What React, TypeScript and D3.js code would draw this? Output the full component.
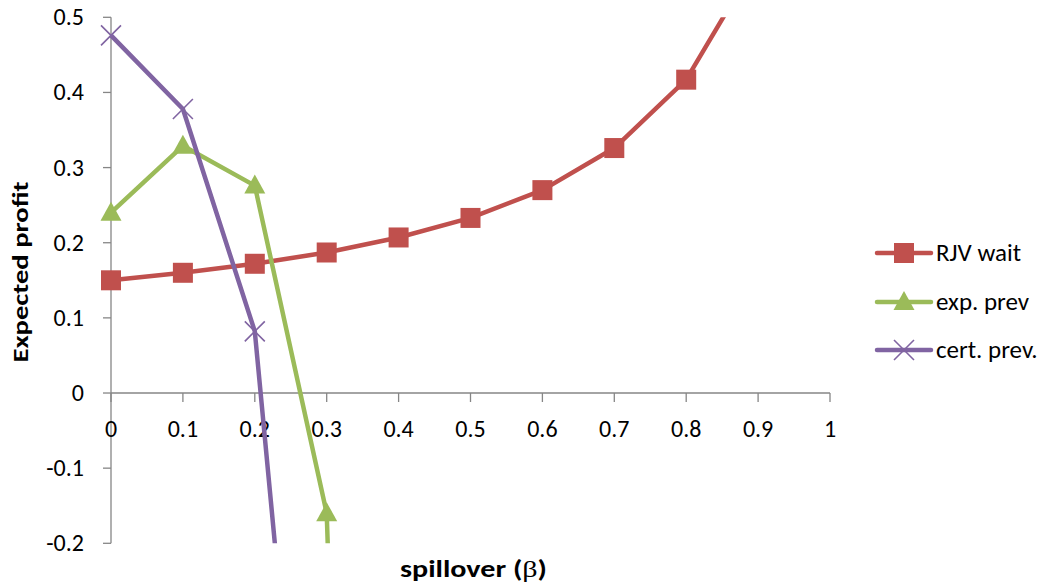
import React from "react";
import * as d3 from "d3";

const xValues = [0, 0.1, 0.2, 0.3, 0.4, 0.5, 0.6, 0.7, 0.8, 0.9];
const rjvWait = [0.15, 0.16, 0.172, 0.187, 0.207, 0.233, 0.27, 0.326, 0.417, 0.578];
const expPrevX = [0, 0.1, 0.2, 0.3, 0.4];
const expPrev = [0.24, 0.329, 0.276, -0.16, -3.0];
const certPrevX = [0, 0.1, 0.2, 0.3];
const certPrev = [0.476, 0.378, 0.082, -0.93];
const xTicks = [0, 0.1, 0.2, 0.3, 0.4, 0.5, 0.6, 0.7, 0.8, 0.9, 1];
const yTicks = [-0.2, -0.1, 0, 0.1, 0.2, 0.3, 0.4, 0.5];
const seriesNames = ["RJV wait", "exp. prev", "cert. prev."];
const colors = ["#C0504D", "#9BBB59", "#8064A2"];

const W = 1053, H = 585;
const FONT = "Carlito, Calibri, Lato, sans-serif";

export default function App() {
  const x = d3.scaleLinear().domain([0, 1]).range([111, 830]);
  const y = d3.scaleLinear().domain([-0.2, 0.5]).range([543.3, 17.3]);
  const line = d3.line<[number, number]>().x(d => x(d[0])).y(d => y(d[1]));
  const axisColor = "#868686";

  const series = [
    { xs: xValues, ys: rjvWait, marker: "square" },
    { xs: expPrevX, ys: expPrev, marker: "triangle" },
    { xs: certPrevX, ys: certPrev, marker: "x" },
  ];

  const drawMarker = (kind: string, cx: number, cy: number, color: string, key: string) => {
    if (kind === "square") {
      return <rect key={key} x={cx - 10} y={cy - 10} width={20} height={20} fill={color} />;
    }
    if (kind === "triangle") {
      return <path key={key} d={`M${cx},${cy - 11} L${cx + 10.5},${cy + 8} L${cx - 10.5},${cy + 8} Z`} fill={color} />;
    }
    return (
      <path key={key} d={`M${cx - 10},${cy - 10} L${cx + 10},${cy + 10} M${cx + 10},${cy - 10} L${cx - 10},${cy + 10}`}
        stroke={color} strokeWidth={1.6} fill="none" />
    );
  };

  const inDomain = (v: number) => v >= -0.2 && v <= 0.5;
  const legendY = [253, 302, 350];
  const fmt = (t: number) => (t === 0 || t === 1 ? String(t) : d3.format(".1f")(t).replace("\u2212", "-"));

  return (
    <svg width={W} height={H} style={{ position: "absolute", left: 0, top: 0 }} fontFamily={FONT}>
      <defs>
        <clipPath id="plot">
          <rect x={80} y={y(0.5)} width={780} height={y(-0.2) - y(0.5)} />
        </clipPath>
      </defs>
      <rect width={W} height={H} fill="#fff" />
      {/* y axis */}
      <line x1={x(0)} x2={x(0)} y1={y(0.5)} y2={y(-0.2)} stroke={axisColor} strokeWidth={1.3} />
      {yTicks.map(t => (
        <g key={"yt" + t}>
          <line x1={x(0) - 8} x2={x(0)} y1={y(t)} y2={y(t)} stroke={axisColor} strokeWidth={1.3} />
          <text x={84} y={y(t)} dy="0.33em" textAnchor="end" fontSize={24} fill="#000">{fmt(t)}</text>
        </g>
      ))}
      {/* x axis */}
      <line x1={x(0)} x2={x(1)} y1={y(0)} y2={y(0)} stroke={axisColor} strokeWidth={1.3} />
      {xTicks.map(t => (
        <g key={"xt" + t}>
          <line x1={x(t)} x2={x(t)} y1={y(0)} y2={y(0) + 9} stroke={axisColor} strokeWidth={1.3} />
          <text x={x(t)} y={437} textAnchor="middle" fontSize={24} fill="#000">{fmt(t)}</text>
        </g>
      ))}
      {/* lines */}
      <g clipPath="url(#plot)">
        {series.map((s, i) => (
          <path key={"l" + i} d={line(s.xs.map((v, j) => [v, s.ys[j]] as [number, number])) || ""}
            fill="none" stroke={colors[i]} strokeWidth={4.5} strokeLinejoin="round" />
        ))}
      </g>
      {series.map((s, i) =>
        s.xs.map((v, j) => inDomain(s.ys[j]) ? drawMarker(s.marker, x(v), y(s.ys[j]), colors[i], `m${i}-${j}`) : null)
      )}
      {/* legend */}
      {seriesNames.map((n, i) => (
        <g key={"lg" + i}>
          <line x1={877} x2={931} y1={legendY[i]} y2={legendY[i]} stroke={colors[i]} strokeWidth={4.5} strokeLinecap="round" />
          {drawMarker(series[i].marker, 904, legendY[i], colors[i], "lm" + i)}
          <text x={936} y={legendY[i]} dy="0.33em" fontSize={25} fill="#000">{n}</text>
        </g>
      ))}
      {/* axis titles */}
      <text transform={`translate(28,272) rotate(-90)`} textAnchor="middle" fontSize={23} fontWeight="bold" fill="#000"
        textLength={181} lengthAdjust="spacingAndGlyphs">
        Expected profit
      </text>
      <text x={473.5} y={577} textAnchor="middle" fontSize={24} fontWeight="bold" fill="#000"
        textLength={147} lengthAdjust="spacingAndGlyphs">
        spillover (<tspan fontFamily="'Liberation Serif', serif" fontWeight="normal">β</tspan>)
      </text>
    </svg>
  );
}
